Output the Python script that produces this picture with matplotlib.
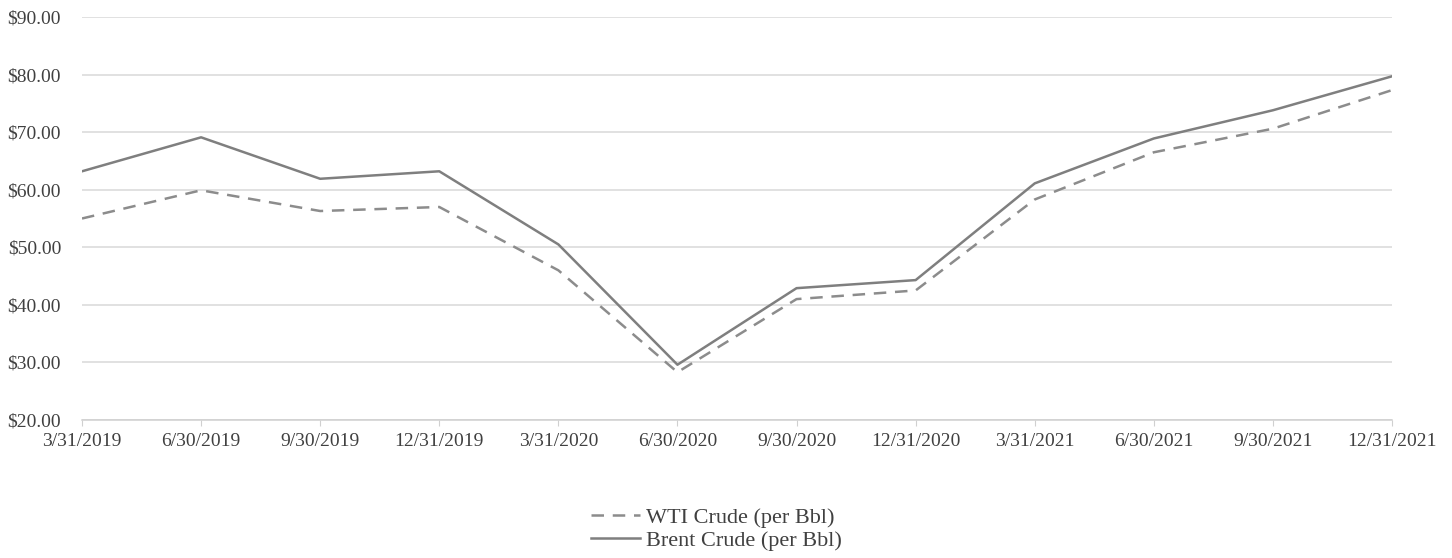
import matplotlib.pyplot as plt
from matplotlib.ticker import FuncFormatter

# quarterly average crude prices
quarters = ["3/31/2019", "6/30/2019", "9/30/2019", "12/31/2019",
            "3/31/2020", "6/30/2020", "9/30/2020", "12/31/2020",
            "3/31/2021", "6/30/2021", "9/30/2021", "12/31/2021"]
wti = [55.0, 59.9, 56.3, 57.0, 46.0, 28.3, 41.0, 42.5, 58.3, 66.5, 70.6, 77.3]
brent = [63.2, 69.1, 61.9, 63.2, 50.5, 29.6, 42.9, 44.3, 61.1, 68.9, 73.8, 79.7]

plt.rcParams['font.family'] = ['Liberation Serif', 'DejaVu Serif']

fig = plt.figure(figsize=(14.52, 5.58), dpi=100)
ax = fig.add_axes([82 / 1452, 1 - 420 / 558, 1310 / 1452, 403 / 558])

x = list(range(len(quarters)))
ax.plot(x, wti, color='#8c8c8c', lw=1.8, dashes=(5, 3.5), label='WTI Crude (per Bbl)')
ax.plot(x, brent, color='#7f7f7f', lw=1.8, label='Brent Crude (per Bbl)')

ax.set_xlim(0, len(quarters) - 1)
ax.set_ylim(20, 90)
ax.set_yticks(range(20, 91, 10))
ax.yaxis.set_major_formatter(FuncFormatter(lambda v, p: "${:.2f}".format(v)))
ax.set_xticks(x)
ax.set_xticklabels(quarters)

ax.grid(axis='y', color='#d9d9d9', lw=1.1)
ax.set_axisbelow(True)
for s in ['top', 'right', 'left']:
    ax.spines[s].set_visible(False)
ax.spines['bottom'].set_color('#d0d0d0')
ax.spines['bottom'].set_linewidth(1.1)
ax.tick_params(axis='y', length=0, pad=15, labelsize=14, labelcolor='#404040')
ax.tick_params(axis='x', length=4, color='#d0d0d0', pad=5, labelsize=14, labelcolor='#404040')

fig.legend(loc='center', bbox_to_anchor=(0.4935, 1 - 529 / 558), ncol=1, frameon=False,
           fontsize=16, handlelength=2.2, handletextpad=0.3, labelspacing=0.1,
           labelcolor='#404040')

fig.savefig('out.png', dpi=100)
